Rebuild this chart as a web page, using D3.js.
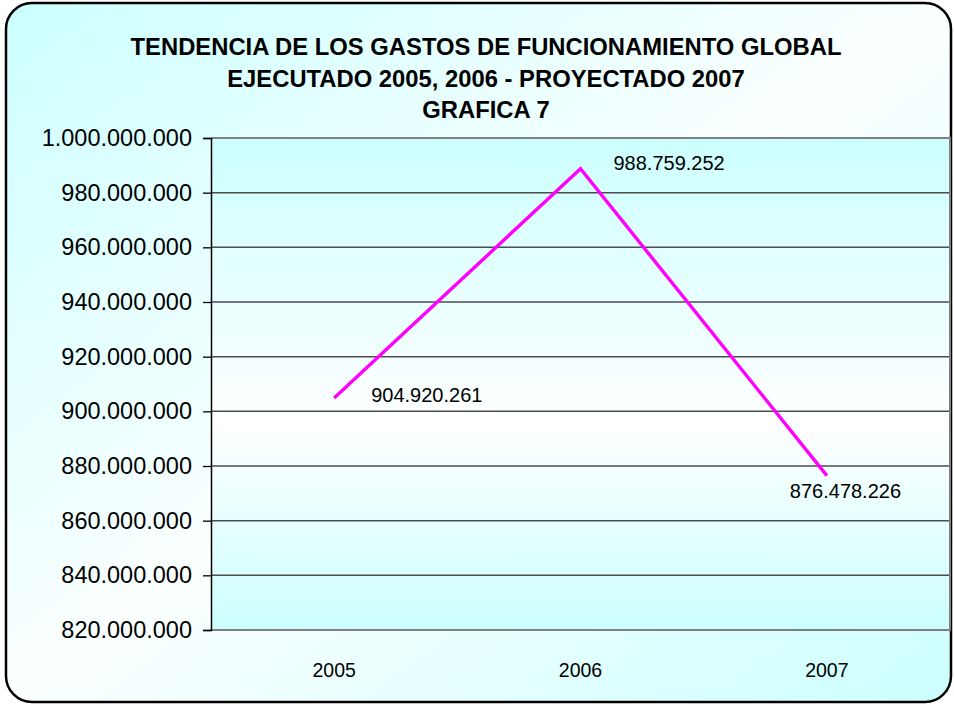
<!DOCTYPE html>
<html>
<head>
<meta charset="utf-8">
<script src="https://cdn.jsdelivr.net/npm/d3@7"></script>
<style>
  html, body { margin: 0; padding: 0; background: #ffffff; }
  svg { display: block; font-family: "Liberation Sans", Arial, sans-serif; }
</style>
</head>
<body>
<svg id="chart" width="954" height="706"></svg>
<script>
// Gastos de funcionamiento global por año
const years = ["2005", "2006", "2007"];
const values = [904920261, 988759252, 876478226];
const yTicks = [820000000, 840000000, 860000000, 880000000, 900000000,
                920000000, 940000000, 960000000, 980000000, 1000000000];
const titleLines = [
  "TENDENCIA DE LOS GASTOS DE FUNCIONAMIENTO GLOBAL",
  "EJECUTADO 2005, 2006 - PROYECTADO 2007",
  "GRAFICA 7"
];

const svg = d3.select("#chart");
const plot = { left: 211, right: 950, top: 138, bottom: 630 };

// Spanish number format: dots as thousands separators
const fmt = d3.formatLocale({ decimal: ",", thousands: ".", grouping: [3], currency: ["$", ""] }).format(",d");

const defs = svg.append("defs");
const bgGrad = defs.append("linearGradient").attr("id", "bgGrad")
  .attr("x1", 0).attr("y1", 0).attr("x2", 1).attr("y2", 1);
bgGrad.append("stop").attr("offset", "0%").attr("stop-color", "#ccffff");
bgGrad.append("stop").attr("offset", "50%").attr("stop-color", "#fbffff");
bgGrad.append("stop").attr("offset", "100%").attr("stop-color", "#ccffff");

const plotGrad = defs.append("linearGradient").attr("id", "plotGrad")
  .attr("x1", 0).attr("y1", 0).attr("x2", 0).attr("y2", 1);
plotGrad.append("stop").attr("offset", "0%").attr("stop-color", "#ccffff");
plotGrad.append("stop").attr("offset", "58%").attr("stop-color", "#ffffff");
plotGrad.append("stop").attr("offset", "100%").attr("stop-color", "#ccffff");

// Chart frame
svg.append("rect")
  .attr("x", 6).attr("y", 3).attr("width", 945).attr("height", 699)
  .attr("rx", 26).attr("ry", 26)
  .attr("fill", "url(#bgGrad)")
  .attr("stroke", "#000").attr("stroke-width", 2.5);

// Title
svg.append("g").selectAll("text").data(titleLines).join("text")
  .attr("x", 486).attr("y", (d, i) => 55 + i * 31.5)
  .attr("text-anchor", "middle")
  .attr("font-weight", "bold").attr("font-size", 23.8)
  .attr("fill", "#000")
  .text(d => d);

// Scales
const x = d3.scalePoint().domain(years).range([plot.left, plot.right]).padding(0.5);
const y = d3.scaleLinear().domain([820000000, 1000000000]).range([plot.bottom, plot.top]);

// Plot area background
svg.append("rect")
  .attr("x", plot.left).attr("y", plot.top)
  .attr("width", plot.right - plot.left).attr("height", plot.bottom - plot.top)
  .attr("fill", "url(#plotGrad)");

// Horizontal gridlines
svg.append("g").selectAll("line").data(yTicks.slice(1, -1)).join("line")
  .attr("x1", plot.left).attr("x2", plot.right)
  .attr("y1", d => y(d)).attr("y2", d => y(d))
  .attr("stroke", "#4d4d4d").attr("stroke-width", 1.5);

// Plot border (top, right, bottom)
svg.append("path")
  .attr("d", `M${plot.left},${plot.top}H${plot.right}V${plot.bottom}H${plot.left}`)
  .attr("fill", "none").attr("stroke", "#808080").attr("stroke-width", 2);

// Y axis
const yAxis = svg.append("g")
  .attr("transform", `translate(${plot.left},0)`)
  .call(d3.axisLeft(y).tickValues(yTicks).tickFormat(fmt).tickSize(8).tickPadding(11));
yAxis.select(".domain").attr("stroke", "#000").attr("stroke-width", 1.5);
yAxis.selectAll(".tick line").attr("stroke", "#000").attr("stroke-width", 1.3);
yAxis.selectAll(".tick text")
  .attr("font-size", 23.5).attr("fill", "#000")
  .attr("font-family", "'Liberation Sans', Arial, sans-serif");

// X axis labels
svg.append("g").selectAll("text").data(years).join("text")
  .attr("x", d => x(d)).attr("y", 677)
  .attr("text-anchor", "middle").attr("font-size", 19.5).attr("fill", "#000")
  .text(d => d);

// Line
const series = years.map((yr, i) => ({ year: yr, value: values[i] }));
svg.append("path")
  .datum(series)
  .attr("fill", "none").attr("stroke", "#ff00ff").attr("stroke-width", 3.4)
  .attr("d", d3.line().x(d => x(d.year)).y(d => y(d.value)));

// Data labels
const labelOffsets = [{ dx: 37, dy: 4 }, { dx: 33, dy: 1 }, { dx: -37, dy: 22 }];
svg.append("g").selectAll("text").data(series).join("text")
  .attr("x", (d, i) => x(d.year) + labelOffsets[i].dx)
  .attr("y", (d, i) => y(d.value) + labelOffsets[i].dy)
  .attr("font-size", 20).attr("fill", "#000")
  .text(d => fmt(d.value));
</script>
</body>
</html>
